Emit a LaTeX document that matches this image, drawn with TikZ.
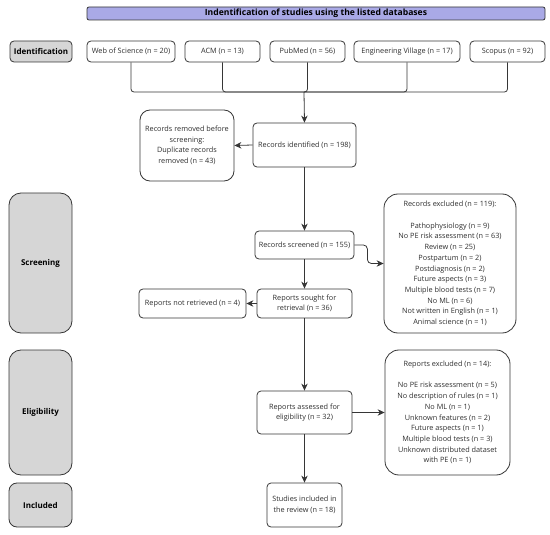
\documentclass[tikz,border=0pt]{standalone}
\usepackage{fontspec}
\setmainfont{Open Sans}
\usetikzlibrary{arrows.meta}
\definecolor{edge}{HTML}{363636}
\definecolor{txt}{HTML}{2E2E2E}
\definecolor{sidegray}{HTML}{D6D6D6}
\definecolor{titlebar}{HTML}{A9A9E6}
\begin{document}
\begin{tikzpicture}[x=1pt,y=-1pt,
  box/.style={draw=edge, line width=0.8pt, rounded corners=4pt, align=center,
    font=\fontsize{7.3}{10.5}\selectfont, text=txt, inner sep=1pt, fill=white},
  bigbox/.style={box, rounded corners=14pt, font=\fontsize{7.3}{10.7}\selectfont},
  sidebox/.style={draw=edge, line width=0.8pt, rounded corners=8pt, fill=sidegray,
    font=\fontsize{8}{9}\selectfont\bfseries, inner sep=0pt},
  conn/.style={draw=edge, line width=0.8pt},
  arr/.style={conn, -{Stealth[length=7pt,width=6.5pt]}},
  sz/.style 2 args={minimum width=#1pt, minimum height=#2pt}
]
\useasboundingbox (0,0) rectangle (550,535);

% title
\node[draw=edge, line width=0.8pt, rounded corners=2pt, fill=titlebar, sz={458}{13},
  inner sep=0pt, font=\fontsize{8.6}{9}\selectfont\bfseries] (title) at (316,13.5)
  {Indentification of studies using the listed databases};

% phase labels
\node[sidebox, sz={62}{21}, rounded corners=4pt] (idph) at (41,51.5) {Identification};
\node[sidebox, sz={63}{140}, rounded corners=12pt] (scph) at (40.5,263) {Screening};
\node[sidebox, sz={63}{125}, rounded corners=12pt] (elph) at (40.5,412.5) {Eligibility};
\node[sidebox, sz={63}{44}] (inph) at (40.5,505) {Included};

% databases
\node[box, sz={88}{21}] (wos) at (131,51.5) {Web of Science (n = 20)};
\node[box, sz={75}{21}] (acm) at (222.5,51.5) {ACM (n = 13)};
\node[box, sz={75}{21}] (pub) at (307.5,51.5) {PubMed (n = 56)};
\node[box, sz={106}{21}] (ev) at (407,51.5) {Engineering Village (n = 17)};
\node[box, sz={75}{21}] (sco) at (507.5,51.5) {Scopus (n = 92)};

\coordinate (hub) at (304,92);

% flow boxes
\node[box, sz={103}{44}] (rid) at (304.5,145) {Records identified (n = 198)};
\node[box, sz={94}{71}, rounded corners=10pt] (rrem) at (187,145.5)
  {Records removed before\\screening:\\Duplicate records\\removed (n = 43)};
\node[box, sz={99}{28}] (rscr) at (304.5,245) {Records screened (n = 155)};
\node[bigbox, sz={132}{139}] (rexc) at (450,263.5)
  {Records excluded (n = 119):\\[10.7pt]
   Pathophysiology (n = 9)\\
   No PE risk assessment (n = 63)\\
   Review (n = 25)\\
   Postpartum (n = 2)\\
   Postdiagnosis (n = 2)\\
   Future aspects (n = 3)\\
   Multiple blood tests (n = 7)\\
   No ML (n = 6)\\
   Not written in English (n = 1)\\
   Animal science (n = 1)};
\node[box, sz={95}{29}] (rsou) at (304.5,303.5) {Reports sought for\\retrieval (n = 36)};
\node[box, sz={107}{29}] (rnot) at (192.5,303.5) {Reports not retrieved (n = 4)};
\node[box, sz={95}{43}] (rass) at (304.5,412.5) {Reports assessed for\\eligibility (n = 32)};
\node[bigbox, sz={125}{125}] (repx) at (447.5,412.5)
  {Reports excluded (n = 14):\\[10.7pt]
   No PE risk assessment (n = 5)\\
   No description of rules (n = 1)\\
   No ML (n = 1)\\
   Unknown features (n = 2)\\
   Future aspects (n = 1)\\
   Multiple blood tests (n = 3)\\
   Unknown distributed dataset\\
   with PE (n = 1)};
\node[box, sz={75}{44}] (sinc) at (304.5,505) {Studies included in\\the review (n = 18)};

% connectors from databases
\draw[conn, rounded corners=3pt] (wos.south) |- (hub);
\draw[conn, rounded corners=3pt] (acm.south) |- (hub);
\draw[conn, rounded corners=3pt] (pub.south) |- (hub);
\draw[conn, rounded corners=3pt] (ev.south) |- (hub);
\draw[conn, rounded corners=3pt] (sco.south) |- (hub);
\draw[arr] (hub) -- (rid.north);

\draw[arr] (rid.west) -- (rrem.east);
\draw[arr] (rid.south) -- (rscr.north);
\draw[arr, rounded corners=4pt] (rscr.east) -- ++(13,0) |- (rexc.west);
\draw[arr] (rscr.south) -- (rsou.north);
\draw[arr] (rsou.west) -- (rnot.east);
\draw[arr] (rsou.south) -- (rass.north);
\draw[arr] (rass.east) -- (repx.west);
\draw[arr] (rass.south) -- (sinc.north);
\end{tikzpicture}
\end{document}
